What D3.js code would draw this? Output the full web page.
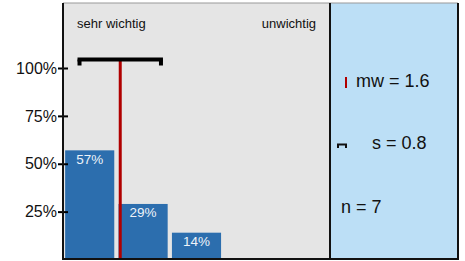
<!DOCTYPE html>
<html>
<head>
<meta charset="utf-8" />
<script src="https://d3js.org/d3.v7.min.js"></script>
<style>
  body { margin: 0; background: #fff; }
  text { font-family: "Liberation Sans", Arial, sans-serif; }
</style>
</head>
<body>
<script>
// data
var categories = [1, 2, 3, 4, 5];
var shares = [0.57, 0.29, 0.14, 0, 0];
var barLabels = ["57%", "29%", "14%", "", ""];
var yTicks = [0.25, 0.5, 0.75, 1];
var yTickLabels = ["25%", "50%", "75%", "100%"];
var poleLabels = ["sehr wichtig", "unwichtig"];
var mean = 1.6, sd = 0.8, n = 7;

var svg = d3.select("body").append("svg")
    .attr("width", 465)
    .attr("height", 261);

var plotLeft = 63, plotRight = 330, panelRight = 458, plotTop = 3, plotBottom = 259;

// backgrounds
svg.append("rect").attr("x", plotLeft).attr("y", plotTop)
    .attr("width", plotRight - plotLeft).attr("height", plotBottom - plotTop)
    .attr("fill", "#e5e5e5");
svg.append("rect").attr("x", plotRight).attr("y", plotTop)
    .attr("width", panelRight - plotRight).attr("height", plotBottom - plotTop)
    .attr("fill", "#bcdff6");

var x = d3.scaleBand()
    .domain(categories)
    .range([plotLeft, plotRight])
    .paddingInner(0.08)
    .paddingOuter(0.04);

var xm = d3.scaleLinear()
    .domain([0.5, 5.5])
    .range([plotLeft - 1.5, plotRight - 1.5]);

var y = d3.scaleLinear()
    .domain([0, 1])
    .range([plotBottom + 0.5, 68]);

// bars
var bars = svg.selectAll("g.bar")
    .data(categories.map(function(c, i){ return {c: c, v: shares[i], l: barLabels[i]}; }))
    .enter().append("g").attr("class", "bar");

bars.append("rect")
    .attr("x", function(d){ return x(d.c); })
    .attr("y", function(d){ return y(d.v); })
    .attr("width", x.bandwidth())
    .attr("height", function(d){ return y(0) - y(d.v); })
    .attr("fill", "#2c6eae");

bars.append("text")
    .attr("x", function(d){ return x(d.c) + x.bandwidth() / 2; })
    .attr("y", function(d){ return y(d.v) + 13.5; })
    .attr("text-anchor", "middle")
    .attr("font-size", 13.5)
    .attr("fill", "#eef3f9")
    .text(function(d){ return d.l; });

// mean line
var yBar = 59.5;
svg.append("line")
    .attr("x1", xm(mean)).attr("x2", xm(mean))
    .attr("y1", yBar).attr("y2", plotBottom)
    .attr("stroke", "#b00000").attr("stroke-width", 3);

// std deviation bar
svg.append("line")
    .attr("x1", xm(mean - sd)).attr("x2", xm(mean + sd))
    .attr("y1", yBar).attr("y2", yBar)
    .attr("stroke", "#000").attr("stroke-width", 4);
svg.selectAll("rect.cap")
    .data([mean - sd, mean + sd])
    .enter().append("rect")
    .attr("class", "cap")
    .attr("x", function(d, i){ return i == 0 ? xm(d) : xm(d) - 4; })
    .attr("y", yBar)
    .attr("width", 4).attr("height", 6)
    .attr("fill", "#000");

// y axis
var axis = svg.append("g")
    .attr("transform", "translate(" + (plotLeft + 5) + ",0)")
    .call(d3.axisLeft(y)
        .tickValues(yTicks)
        .tickFormat(function(d, i){ return yTickLabels[i]; })
        .tickSize(10)
        .tickPadding(1));
axis.select(".domain").remove();
axis.selectAll(".tick line").attr("stroke", "#000").attr("stroke-width", 2);
axis.selectAll(".tick text")
    .attr("font-size", 16)
    .attr("fill", "#111")
    .attr("font-family", "Liberation Sans, Arial, sans-serif");

// frame
svg.append("line").attr("x1", plotLeft).attr("x2", panelRight)
    .attr("y1", plotTop).attr("y2", plotTop)
    .attr("stroke", "#999").attr("stroke-width", 1);
svg.append("line").attr("x1", plotLeft).attr("x2", panelRight + 1)
    .attr("y1", plotBottom).attr("y2", plotBottom)
    .attr("stroke", "#111").attr("stroke-width", 2);
[plotLeft, plotRight, panelRight].forEach(function(px){
    svg.append("line").attr("x1", px).attr("x2", px)
        .attr("y1", plotTop).attr("y2", plotBottom + 1)
        .attr("stroke", "#111").attr("stroke-width", 2);
});

// pole labels
svg.append("text").attr("x", 77).attr("y", 28)
    .attr("font-size", 13).attr("fill", "#111").text(poleLabels[0]);
svg.append("text").attr("x", 316).attr("y", 28)
    .attr("text-anchor", "end")
    .attr("font-size", 13).attr("fill", "#111").text(poleLabels[1]);

// legend panel
svg.append("line").attr("x1", 346).attr("x2", 346)
    .attr("y1", 77).attr("y2", 88)
    .attr("stroke", "#b00000").attr("stroke-width", 2);
svg.append("text").attr("x", 356).attr("y", 87)
    .attr("font-size", 18).attr("fill", "#111").text("mw = " + mean);

svg.append("path")
    .attr("d", "M338,148 V144.5 H346 V148")
    .attr("fill", "none").attr("stroke", "#111").attr("stroke-width", 2);
svg.append("text").attr("x", 372).attr("y", 149)
    .attr("font-size", 18).attr("fill", "#111").text("s = " + sd);

svg.append("text").attr("x", 341).attr("y", 213)
    .attr("font-size", 18).attr("fill", "#111").text("n = " + n);
</script>
</body>
</html>
